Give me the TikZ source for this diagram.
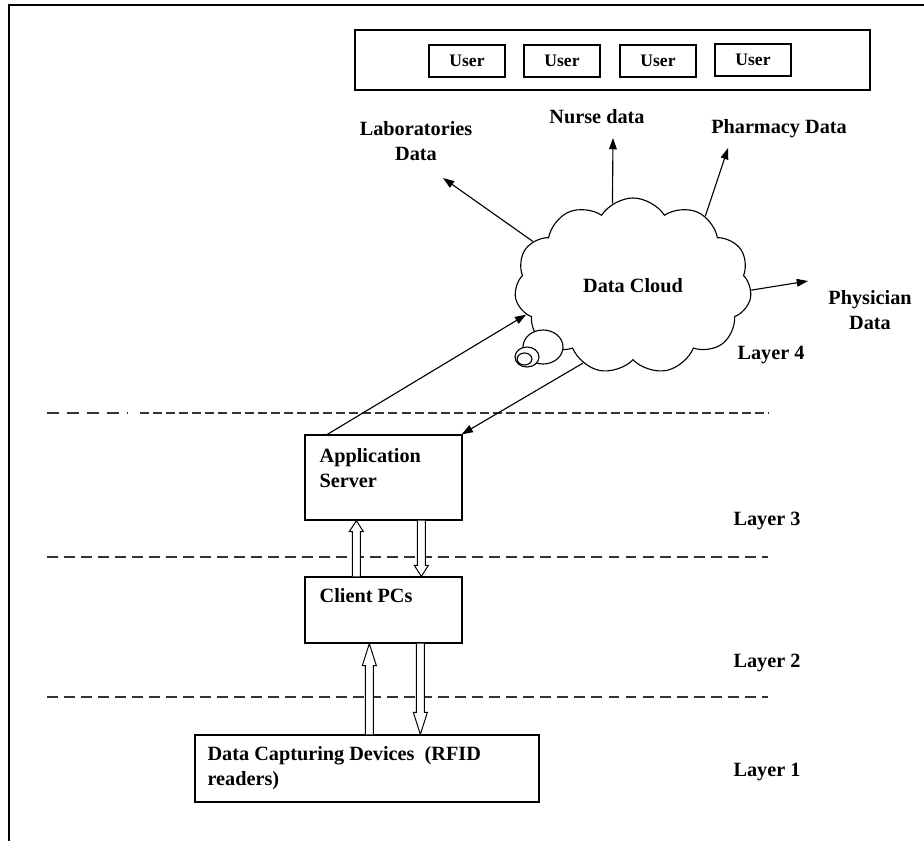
\documentclass[tikz,border=0pt]{standalone}
\usepackage{fontspec}
\setmainfont{Liberation Serif}
\usetikzlibrary{shapes.symbols,shapes.geometric,arrows.meta,calc}
\newcommand\hollowarr[3]{%
 \draw[line width=0.7pt, fill=white] let \p1=#1, \p2=#2, \n1={(\y2>\y1)*2-1}, \n2={\y2-(\n1)*#3} in
 ({\x1-2.8pt},\y1) -- ({\x1-2.8pt},{\n2*1pt}) -- ({\x1-5pt},{\n2*1pt}) -- (\x1,\y2)
 -- ({\x1+5pt},{\n2*1pt}) -- ({\x1+2.8pt},{\n2*1pt}) -- ({\x1+2.8pt},\y1);}
\tikzset{
 txt/.style={inner sep=0pt, font=\fontsize{14.4}{17.5}\selectfont\bfseries},
 box/.style={draw, line width=0.9pt, inner sep=0pt},
 ubox/.style={draw, line width=0.8pt, minimum width=1.9cm, minimum height=0.8cm, inner sep=0pt,
   font=\fontsize{12.5}{15}\selectfont\bfseries},
 conn/.style={line width=0.8pt, -{Triangle[length=8pt,width=5.5pt]}},
 dashline/.style={line width=1.1pt, black!80},
 bubble/.style={ellipse, draw, line width=0.8pt, fill=white, inner sep=0pt},
}
\begin{document}
\begin{tikzpicture}[x=0.025cm, y=-0.025cm]
\useasboundingbox (0,0) rectangle (924,841);
% outer frame
\draw[line width=1.9pt] (9,841) -- (9,5) -- (924,5);
% user bar
\node[box, line width=1.6pt, minimum width=12.875cm, minimum height=1.5cm] (bar) at (612.5,60) {};
\node[ubox] (u1) at (467,61) {User};
\node[ubox] (u2) at (562,61) {User};
\node[ubox] (u3) at (658,61) {User};
\node[ubox] (u4) at (753,60) {User};
% cloud
\node[cloud, draw, line width=0.8pt, cloud puffs=11, cloud puff arc=115, aspect=1.35,
  minimum width=5.925cm, minimum height=4.4cm, inner sep=0pt, txt] (cloud) at (633,286) {Data Cloud};
\node[bubble, minimum width=1cm, minimum height=0.85cm] (bub1) at (543,347) {};
\node[bubble, minimum width=0.6cm, minimum height=0.5cm] (bub2) at (527,357) {};
\node[bubble, minimum width=0.37cm, minimum height=0.3cm] (bub3) at (524.5,359) {};
% labels
\node[txt, align=center] (lab) at (416,141) {Laboratories\\Data};
\node[txt] (nurse) at (597,117) {Nurse data};
\node[txt] (pharm) at (779,129) {Pharmacy Data};
\node[txt, align=center] (phys) at (870,310) {Physician\\Data};
\node[txt] (l4) at (771,355) {Layer 4};
\node[txt] (l3) at (767,521) {Layer 3};
\node[txt] (l2) at (767,663) {Layer 2};
\node[txt] (l1) at (767,772) {Layer 1};
% arrow ends
\coordinate (labend) at (443,178);
\coordinate (nurseend) at (613,138);
\coordinate (pharmend) at (728,148);
\coordinate (physend) at (808,281);
\draw[conn] (cloud.156) -- (labend);
\draw[conn] (cloud.104) -- (nurseend);
\draw[conn] (cloud.44) -- (pharmend);
\draw[conn] (cloud.-2) -- (physend);
% dashed separators
\draw[dashline, dash pattern=on 8.5pt off 5.7pt] (47,413) -- (127,413);
\draw[dashline, dash pattern=on 6.4pt off 2.9pt] (140,413) -- (768,413);
\draw[dashline, dash pattern=on 7.8pt off 4.3pt] (47,557) -- (768,557);
\draw[dashline, dash pattern=on 7.8pt off 4.3pt] (47,697) -- (768,697);
% boxes
\node[box, minimum width=3.925cm, minimum height=2.125cm] (app) at (383.5,477.5) {};
\node[txt, anchor=north west, align=left] (apptxt) at ($(app.north west)+(15,14)$) {Application\\Server};
\node[box, minimum width=3.925cm, minimum height=1.65cm] (client) at (383.5,610) {};
\node[txt, anchor=north west] (clitxt) at ($(client.north west)+(15,12)$) {Client PCs};
\node[box, minimum width=8.6cm, minimum height=1.675cm] (dcd) at (367,768.5) {};
\node[txt, anchor=north west, align=left] (dcdtxt) at ($(dcd.north west)+(13,12)$) {Data Capturing Devices\ \ (RFID\\readers)};
% app <-> cloud
\draw[conn] ($(app.north west)+(23,0)$) -- (cloud.195);
\draw[conn] (cloud.237) -- ($(app.north east)+(-1,0)$);
% hollow arrows
\hollowarr{($(client.north west)+(52,0)$)}{($(app.south west)+(52,0)$)}{7.8pt}
\hollowarr{($(app.south west)+(117,0)$)}{($(client.north west)+(117,0)$)}{7.8pt}
\hollowarr{($(dcd.north west)+(175,0)$)}{($(client.south west)+(65,0)$)}{15.6pt}
\hollowarr{($(client.south west)+(116,0)$)}{($(dcd.north west)+(226,0)$)}{15.6pt}
\end{tikzpicture}
\end{document}
